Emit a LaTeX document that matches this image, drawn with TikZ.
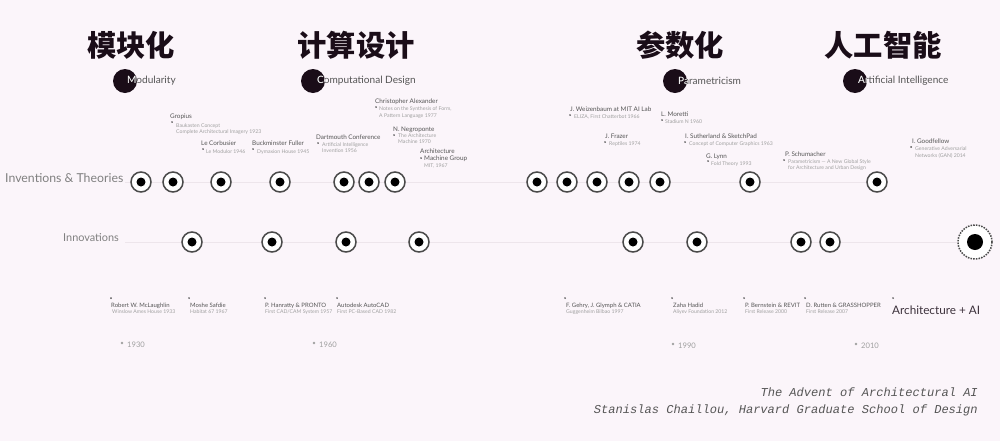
\documentclass[tikz,border=0pt]{standalone}
\usepackage{fontspec}
\setmainfont{Lato}
\newfontfamily\cjk{Noto Sans CJK SC}
\newfontfamily\monofont{Liberation Mono}
\definecolor{bg}{HTML}{FBF5FA}
\definecolor{ink}{HTML}{1A0D18}
\definecolor{ring}{HTML}{4A4A4A}
\definecolor{nmc}{HTML}{555555}
\definecolor{subc}{HTML}{A0A0A0}
\definecolor{faint}{HTML}{EDE5EB}
\tikzset{
  ttl/.style={font=\cjk\bfseries\fontsize{25}{25}\selectfont, text=ink, inner sep=0},
  perdot/.style={circle, fill=ink, minimum size=0.72cm, inner sep=0},
  perlbl/.style={font=\fontsize{8.6}{8.6}\selectfont, text=nmc, anchor=west, inner sep=0},
  rowlbl/.style={font=\fontsize{10.5}{10.5}\selectfont, text=nmc!75, anchor=base west, inner sep=0},
  mk/.style={circle, draw=ring, line width=1.3pt, fill=white, minimum size=0.6cm, inner sep=0,
    path picture={\fill[black] (path picture bounding box.center) circle (0.135cm);}},
  aimk/.style={circle, draw=ring, line width=1.3pt, densely dotted, fill=white, minimum size=1.02cm, inner sep=0,
    path picture={\fill[black] (path picture bounding box.center) circle (0.24cm);}},
  nm/.style={font=\fontsize{5.4}{5.4}\selectfont, text=nmc, anchor=base west, inner sep=0},
  bnm/.style={font=\fontsize{5.1}{5.1}\selectfont, text=nmc, anchor=base west, inner sep=0},
  sb/.style={font=\fontsize{4.4}{4.4}\selectfont, text=subc, anchor=base west, inner sep=0},
  yr/.style={font=\fontsize{6.5}{6.5}\selectfont, text=subc, anchor=base west, inner sep=0},
  bul/.style={circle, fill=nmc, minimum size=1.7pt, inner sep=0},
  ybul/.style={circle, fill=subc, minimum size=2.2pt, inner sep=0},
  foot/.style={font=\monofont\itshape\fontsize{10.3}{10.3}\selectfont, text=nmc, anchor=base east, inner sep=0},
  rowline/.style={draw=faint, line width=0.8pt}
}
\begin{document}
\begin{tikzpicture}[x=0.03cm,y=-0.03cm]
\fill[bg] (0,0) rectangle (1000,441);
\useasboundingbox (0,0) rectangle (1000,441);

% titles
\node[ttl] (t1) at (131,45) {模块化};
\node[ttl] (t2) at (356,45) {计算设计};
\node[ttl] (t3) at (680,45) {参数化};
\node[ttl] (t4) at (883,45) {人工智能};

% period dots and labels
\node[perdot] (p1) at (125,81) {};
\node[perdot] (p2) at (313,81) {};
\node[perdot] (p3) at (675,81) {};
\node[perdot] (p4) at (855,81) {};
\node[perlbl] (l1) at (127,81) {Modularity};
\node[perlbl] (l2) at (317,81) {Computational Design};
\node[perlbl] (l3) at (678,81) {Parametricism};
\node[perlbl] (l4) at (858,81) {Artificial Intelligence};
\begin{scope}\clip (p1.center) circle (0.36cm);\node[perlbl,text=white] at (127,81) {Modularity};\end{scope}
\begin{scope}\clip (p2.center) circle (0.36cm);\node[perlbl,text=white] at (317,81) {Computational Design};\end{scope}
\begin{scope}\clip (p3.center) circle (0.36cm);\node[perlbl,text=white] at (678,81) {Parametricism};\end{scope}
\begin{scope}\clip (p4.center) circle (0.36cm);\node[perlbl,text=white] at (858,81) {Artificial Intelligence};\end{scope}

% row labels
\node[rowlbl] (r1) at (5,182) {Inventions \& Theories};
\node[rowlbl, font=\fontsize{9.3}{9.3}\selectfont] (r2) at (63,241) {Innovations};

% row markers
\coordinate (a0) at (125,182);
\coordinate (b0) at (125,242);
\foreach \x [count=\i] in {141,173,221,280,344,369,395,537,567,597,629,660,750,877}
  \coordinate (ia\i) at (\x,182);
\foreach \x [count=\i] in {192,272,346,419,633,697,801,830}
  \coordinate (nb\i) at (\x,242);
\coordinate (aiend) at (975,242);
\draw[rowline] (a0) -- (ia14);
\draw[rowline] (b0) -- (aiend);
\foreach \i in {1,...,14} \node[mk] (i\i) at (ia\i) {};
\foreach \i in {1,...,8} \node[mk] (n\i) at (nb\i) {};
\node[aimk] (ai) at (aiend) {};

% upper annotations
\node[nm] (gro) at (170,118) {Gropius};
\node[bul] (grob) at (172,122) {};
\node[sb] at (176,127) {Baukasten Concept};
\node[sb] at (176,133) {Complete Architectural Imagery 1923};

\node[nm] (lec) at (201,145) {Le Corbusier};
\node[bul] at (203,149) {};
\node[sb] at (206,153) {Le Modulor 1946};

\node[nm] (buc) at (252,145) {Buckminster Fuller};
\node[bul] at (253,149) {};
\node[sb] at (257,153) {Dymaxion House 1945};

\node[nm] (dar) at (316,139) {Dartmouth Conference};
\node[bul] at (318,143) {};
\node[sb] at (322,146) {Artificial Intelligence};
\node[sb] at (322,152) {Invention 1956};

\node[nm] (chr) at (375,103) {Christopher Alexander};
\node[bul] at (376,107) {};
\node[sb] at (379,110) {Notes on the Synthesis of Form,};
\node[sb] at (379,117) {A Pattern Language 1977};

\node[nm] (neg) at (393,131) {N. Negroponte};
\node[bul] at (394,135) {};
\node[sb] at (398,137) {The Architecture};
\node[sb] at (398,143) {Machine 1970};

\node[nm] (amg) at (420,153) {Architecture};
\node[nm] at (424,160) {Machine Group};
\node[bul] at (421,158) {};
\node[sb] at (424,167) {MIT, 1967};

\node[nm] (wei) at (570,111) {J. Weizenbaum at MIT AI Lab};
\node[bul] at (570,115) {};
\node[sb] at (574,118) {ELIZA, First Chatterbot 1966};

\node[nm] (fra) at (605,138) {J. Frazer};
\node[bul] at (605,142) {};
\node[sb] at (609,145) {Reptiles 1974};

\node[nm] (mor) at (661,116) {L. Moretti};
\node[bul] at (662,120) {};
\node[sb] at (665,123) {Stadium N 1960};

\node[nm] (sut) at (685,138) {I. Sutherland \& SketchPad};
\node[bul] at (685,142) {};
\node[sb] at (689,145) {Concept of Computer Graphics 1963};

\node[nm] (lyn) at (706,158) {G. Lynn};
\node[bul] at (708,161) {};
\node[sb] at (711,165) {Fold Theory 1993};

\node[nm] (sch) at (785,156) {P. Schumacher};
\node[bul] at (784,160) {};
\node[sb] at (788,163) {Parametricism --- A New Global Style};
\node[sb] at (788,169) {for Architecture and Urban Design};

\node[nm] (goo) at (912,143) {I. Goodfellow};
\node[bul] at (911,147) {};
\node[sb] at (915,150) {Generative Adversarial};
\node[sb] at (915,157) {Networks (GAN) 2014};

% lower annotations
\node[bul] at (111,298) {};
\node[bnm] (mcl) at (111,307) {Robert W. McLaughlin};
\node[sb] at (112,313) {Winslow Ames House 1933};

\node[bul] at (189,298) {};
\node[bnm] (saf) at (190,307) {Moshe Safdie};
\node[sb] at (190,313) {Habitat 67 1967};

\node[bul] at (265,298) {};
\node[bnm] (han) at (265,307) {P. Hanratty \& PRONTO};
\node[sb] at (265,313) {First CAD/CAM System 1957};

\node[bul] at (337,298) {};
\node[bnm] (acd) at (337,307) {Autodesk AutoCAD};
\node[sb] at (337,313) {First PC-Based CAD 1982};

\node[bul] at (565,298) {};
\node[bnm] (geh) at (566,307) {F. Gehry, J. Glymph \& CATIA};
\node[sb] at (566,313) {Guggenheim Bilbao 1997};

\node[bul] at (672,298) {};
\node[bnm] (zah) at (673,307) {Zaha Hadid};
\node[sb] at (673,313) {Aliyev Foundation 2012};

\node[bul] at (744,298) {};
\node[bnm] (ber) at (745,307) {P. Bernstein \& REVIT};
\node[sb] at (745,313) {First Release 2000};

\node[bul] at (805,298) {};
\node[bnm] (rut) at (806,307) {D. Rutten \& GRASSHOPPER};
\node[sb] at (806,313) {First Release 2007};

\node[bul] at (893,298) {};
\node[nm, font=\fontsize{10}{10}\selectfont, text=ink!85] (aia) at (892,314) {Architecture + AI};

% years
\node[ybul] at (122,343) {};
\node[yr] (y1) at (127,347) {1930};
\node[ybul] at (314,343) {};
\node[yr] (y2) at (319,347) {1960};
\node[ybul] at (673,344) {};
\node[yr] (y3) at (678,348) {1990};
\node[ybul] at (856,344) {};
\node[yr] (y4) at (861,348) {2010};

% footer
\node[foot] (f1) at (978,396) {The Advent of Architectural AI};
\node[foot] (f2) at (978,413) {Stanislas Chaillou, Harvard Graduate School of Design};
\end{tikzpicture}
\end{document}
